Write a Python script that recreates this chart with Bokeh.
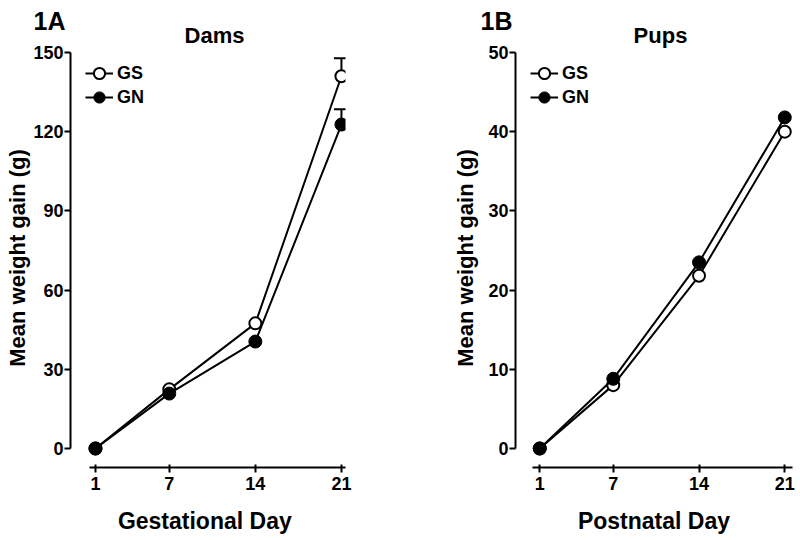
from bokeh.plotting import figure
from bokeh.models import ColumnDataSource, FixedTicker, Whisker, TeeHead, Label, Range1d, Legend, LegendItem
from bokeh.layouts import row
from bokeh.embed import file_html
from bokeh.resources import INLINE

# ---------------- data ----------------
days = [1, 7, 14, 21]
x_tick_labels = [1, 7, 14, 21]

dams_gs = [0.0, 22.4, 47.4, 141.0]
dams_gn = [0.0, 20.8, 40.5, 122.7]
dams_gs_sem = [0.0, 0.0, 0.0, 6.8]
dams_gn_sem = [0.0, 0.0, 0.0, 5.8]
dams_y_ticks = [0, 30, 60, 90, 120, 150]

pups_gs = [0.0, 8.0, 21.8, 40.0]
pups_gn = [0.0, 8.8, 23.5, 41.8]
pups_y_ticks = [0, 10, 20, 30, 40, 50]

FONT = "Liberation Sans"


def make_panel(title, title_x, xlabel, gs, gn, y_ticks, y_range, x_range, x_bounds,
               min_left, frame_w, min_right, label_standoff, gs_sem=None, gn_sem=None):
    p = figure(width=min_left + frame_w + min_right, height=540,
               x_range=Range1d(*x_range), y_range=Range1d(*y_range),
               output_backend="svg", toolbar_location=None, title=None,
               min_border_left=min_left, min_border_right=min_right,
               min_border_top=48, min_border_bottom=73)
    p.xgrid.visible = False
    p.ygrid.visible = False
    p.outline_line_color = None
    p.background_fill_color = "white"
    p.border_fill_color = "white"

    for ax in (p.xaxis[0], p.yaxis[0]):
        ax.axis_line_width = 2
        ax.axis_line_color = "black"
        ax.major_tick_line_width = 2
        ax.major_tick_line_color = "black"
        ax.minor_tick_line_color = None
        ax.major_label_text_font = FONT
        ax.major_label_text_font_style = "bold"
        ax.major_label_text_font_size = "18px"
        ax.major_label_text_color = "black"
        ax.axis_label_text_font = FONT
        ax.axis_label_text_font_style = "bold"
        ax.axis_label_text_color = "black"

    xa = p.xaxis[0]
    xa.ticker = FixedTicker(ticks=days)
    xa.major_label_overrides = {d: str(t) for d, t in zip(days, x_tick_labels)}
    xa.bounds = x_bounds
    xa.major_tick_in = 3
    xa.major_tick_out = 5
    xa.major_label_standoff = 4
    xa.axis_label = xlabel
    xa.axis_label_standoff = 15
    xa.axis_label_text_font_size = "23px"

    ya = p.yaxis[0]
    ya.ticker = FixedTicker(ticks=y_ticks)
    ya.bounds = (y_ticks[0], y_ticks[-1])
    ya.major_tick_in = 0
    ya.major_tick_out = 6
    ya.major_label_standoff = 1
    ya.axis_label = "Mean weight gain (g)"
    ya.axis_label_standoff = label_standoff
    ya.axis_label_text_font_size = "22px"

    # error bars (upper only)
    for vals, sem in ((gs, gs_sem), (gn, gn_sem)):
        if sem is None:
            continue
        xs = [d for d, s in zip(days, sem) if s > 0]
        lo = [v for v, s in zip(vals, sem) if s > 0]
        hi = [v + s for v, s in zip(vals, sem) if s > 0]
        if xs:
            src = ColumnDataSource(dict(base=xs, lower=lo, upper=hi))
            w = Whisker(base="base", lower="lower", upper="upper", source=src,
                        line_color="black", line_width=2,
                        upper_head=TeeHead(size=15, line_width=2, line_color="black"),
                        lower_head=None)
            p.add_layout(w)

    l1 = p.line(days, gs, line_color="black", line_width=2)
    s1 = p.scatter(days, gs, size=12, fill_color="white", line_color="black", line_width=2)
    l2 = p.line(days, gn, line_color="black", line_width=2)
    s2 = p.scatter(days, gn, size=13, fill_color="black", line_color="black", line_width=1)

    for name, rs, ypos in (("GS", [l1, s1], 379), ("GN", [l2, s2], 355)):
        lg = Legend(items=[LegendItem(label=name, renderers=rs)], location=(15, ypos),
                    margin=0, padding=0, spacing=0, glyph_width=28, glyph_height=30,
                    label_height=24, label_standoff=4, label_text_font=FONT,
                    label_text_font_style="bold", label_text_font_size="18px",
                    label_text_color="black", background_fill_alpha=0,
                    border_line_color=None)
        p.add_layout(lg)

    # panel title, in the band above the plot area
    p.add_layout(Label(x=title_x, y=13, x_units="screen", y_units="screen", text=title,
                       text_font=FONT, text_font_style="bold", text_font_size="22px",
                       text_align="center", text_baseline="alphabetic", text_color="black"),
                 "above")
    return p


pa = make_panel("Dams", 144, "Gestational  Day", dams_gs, dams_gn, dams_y_ticks,
                (-7.2, 151.5), (-1.03, 21.33), (0.49, 21.33), 70, 275, 55, 0,
                gs_sem=dams_gs_sem, gn_sem=dams_gn_sem)
pb = make_panel("Pups", 145, "Postnatal Day", pups_gs, pups_gn, pups_y_ticks,
                (-2.4, 50.5), (-0.98, 21.63), (0.4, 21.63), 115, 277, 8, 7)

# panel tags, placed in unused side bands so they are not clipped
pa.add_layout(Label(x=-312, y=447, x_units="screen", y_units="screen", text="1A",
                    text_font=FONT, text_font_style="bold", text_font_size="25px",
                    text_align="left", text_baseline="alphabetic", text_color="black"),
              "right")
pb.add_layout(Label(x=62, y=447, x_units="screen", y_units="screen", text="1B",
                    text_font=FONT, text_font_style="bold", text_font_size="25px",
                    text_align="left", text_baseline="alphabetic", text_color="black"),
              "left")

layout = row(pa, pb)
open("out.html", "w").write(file_html(layout, INLINE))
